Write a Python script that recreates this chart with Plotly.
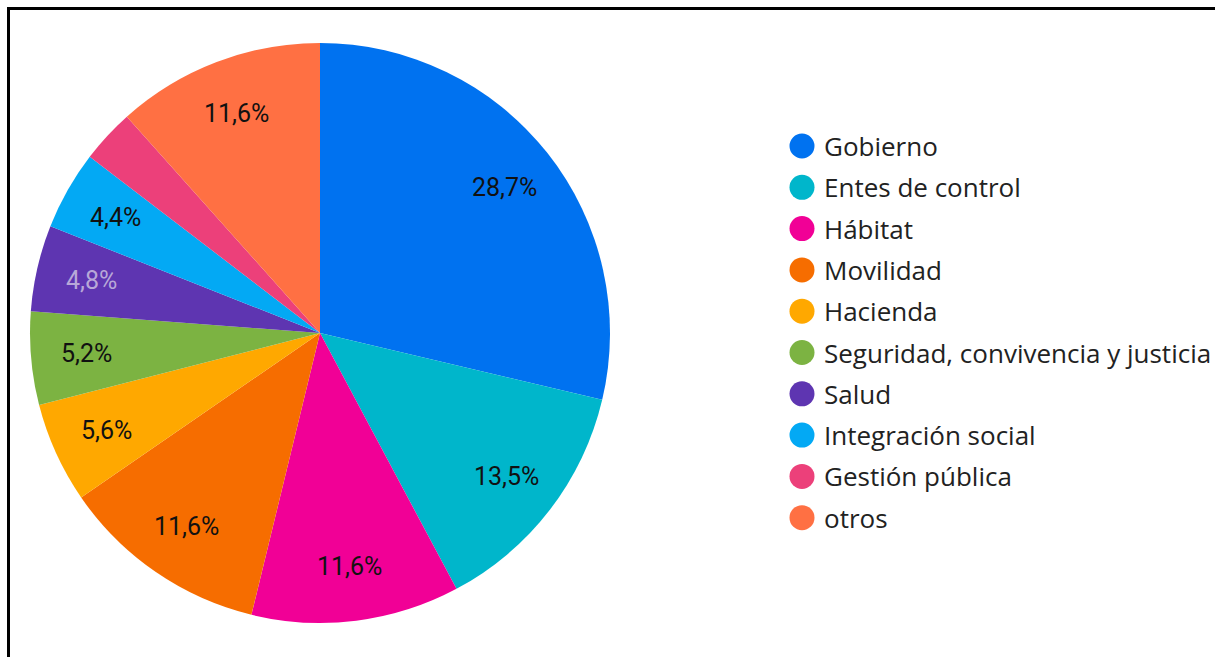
import math
import plotly.graph_objects as go

categories = ["Gobierno", "Entes de control", "Hábitat", "Movilidad", "Hacienda",
              "Seguridad, convivencia y justicia", "Salud", "Integración social",
              "Gestión pública", "otros"]
values = [28.7, 13.5, 11.6, 11.6, 5.6, 5.2, 4.8, 4.4, 3.0, 11.6]
colors = ["#0072f0", "#00b6cb", "#f10096", "#f66d00", "#ffa800",
          "#7cb342", "#5e35b1", "#03a9f4", "#ec407a", "#ff7043"]
label_colors = ["#111111"] * 6 + ["#b8a8d8"] + ["#111111"] * 3

total = sum(values)
labels_txt = []
for v in values:
    pct = v / total * 100
    labels_txt.append(f"{pct:.1f}%".replace(".", ",") if pct >= 3.5 else "")

W, H = 1215, 657
cx, cy, R = 320, 333, 290

fig = go.Figure()
fig.add_trace(go.Pie(
    labels=categories,
    values=values,
    textinfo="none",
    marker=dict(colors=colors, line=dict(width=0)),
    sort=False,
    direction="clockwise",
    rotation=0,
    showlegend=False,
    hoverinfo="label+percent",
    domain=dict(x=[(cx - R) / W, (cx + R) / W], y=[(H - cy - R) / H, (H - cy + R) / H]),
))

annotations = []
# slice labels placed at the angular middle of each slice (derived from values)
cum = 0.0
r_lab = 0.81 * R
for v, t, tc in zip(values, labels_txt, label_colors):
    theta = 2 * math.pi * (cum + v / 2) / total
    cum += v
    if not t:
        continue
    px = cx + r_lab * math.sin(theta)
    py = cy - r_lab * math.cos(theta)
    annotations.append(dict(xref="paper", yref="paper", x=px / W, y=1 - py / H,
                            text=t, showarrow=False, xanchor="center", yanchor="middle",
                            font=dict(family="Roboto", size=25, color=tc)))

shapes = [dict(type="rect", xref="paper", yref="paper",
               x0=8.5 / W, x1=1.01, y0=-0.01, y1=1 - 8.5 / H,
               line=dict(color="black", width=3), fillcolor="rgba(0,0,0,0)")]
y0, step = 146, 41.3
for i, (c, col) in enumerate(zip(categories, colors)):
    y = y0 + i * step
    shapes.append(dict(type="circle", xref="paper", yref="paper",
                       x0=(802 - 12.5) / W, x1=(802 + 12.5) / W,
                       y0=1 - (y + 12.5) / H, y1=1 - (y - 12.5) / H,
                       fillcolor=col, line=dict(width=0)))
    annotations.append(dict(xref="paper", yref="paper", x=822 / W, y=1 - y / H,
                            text=c, showarrow=False, xanchor="left", yanchor="middle",
                            font=dict(family="Open Sans", size=26, color="#222222")))

fig.update_layout(
    width=W, height=H,
    margin=dict(l=0, r=0, t=0, b=0),
    paper_bgcolor="white",
    plot_bgcolor="white",
    shapes=shapes,
    annotations=annotations,
)

fig.write_html("out.html")
